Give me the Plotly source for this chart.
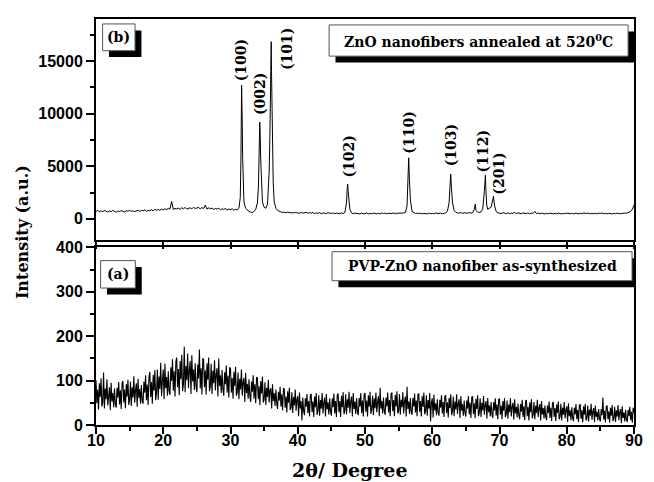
import numpy as np
import plotly.graph_objects as go

# ---------------- data ----------------
# sampling grid for both patterns (2theta, degrees)
grid_b_start, grid_b_stop, grid_b_step = 10.0, 90.0, 0.25     # annealed pattern
grid_a_start, grid_a_stop, grid_a_step = 10.0, 90.0, 0.125    # as-synthesized pattern

# (b) ZnO nanofibers annealed at 520 C -- values on the 0.25 deg grid (10 ... 90)
annealed_grid = [
    700, 820, 650, 760,  680, 790, 720, 640,  750, 680, 800, 700,  620, 740, 690, 780,
    700, 650, 760, 720,  810, 700, 760, 680,  740, 820, 700, 790,  760, 850, 720, 800,
    780, 860, 750, 900,  820, 880, 800, 920,  860, 950, 880, 1000, 920, 1650, 880, 980,
    940, 1020, 900, 1050, 960, 1080, 920, 1000, 1050, 940, 1100, 980, 1000, 1080, 950, 1060,
    980, 1300, 920, 1040, 960, 1020, 880, 980, 920, 1000, 860, 950, 900, 980, 840, 920,
    880, 950, 820, 900,  850, 1000, 3200, 9000, 1600, 1000, 800, 700, 620, 600, 700, 900,
    1500, 6000, 5500, 1600, 1100, 1000, 1400, 4500, 14500, 6500, 1600, 1000, 800, 700, 650, 600,
    620, 560, 640, 580,  600, 540, 620, 560,  580, 520, 600, 540,  560, 620, 520, 580,
    540, 600, 500, 560,  520, 580, 480, 560,  540, 500, 580, 520,  500, 560, 480, 540,
    520, 480, 560, 500,  600, 1500, 2600, 900, 560, 480, 540, 500, 520, 460, 540, 480,
    500, 560, 460, 520,  480, 540, 500, 460,  520, 480, 560, 500,  540, 470, 520, 490,
    500, 560, 480, 530,  520, 480, 540, 560,  600, 1200, 5800, 1800, 700, 560, 500, 540,
    480, 530, 470, 520,  500, 460, 540, 480,  520, 470, 550, 490,  500, 540, 470, 520,
    560, 700, 1500, 4250, 1600, 800, 620, 560, 540, 600, 520, 580, 560, 520, 600, 540,
    580, 900, 800, 650,  600, 650, 900, 2600, 2500, 900, 1000, 1100, 1800, 1300, 700, 560,
    540, 500, 580, 520,  500, 560, 480, 540,  520, 600, 500, 560,  540, 480, 560, 520,
    500, 560, 470, 540,  520, 700, 500, 540,  480, 540, 500, 460,  520, 480, 540, 500,
    460, 520, 480, 540,  500, 460, 520, 480,  540, 500, 480, 520,  460, 540, 500, 480,
    520, 480, 560, 500,  500, 540, 470, 520,  480, 520, 460, 540,  500, 560, 480, 520,
    470, 520, 500, 460,  520, 480, 540, 500,  480, 520, 500, 540,  560, 600, 700, 900,
    1300,
]
# extra points read on the diffraction peaks (2theta, intensity)
peak_two_theta = [31.45, 31.55, 31.65, 31.7, 31.8, 31.9,
                  34.15, 34.35, 34.4, 34.6,
                  35.65, 35.85, 35.95, 36.05, 36.1, 36.15, 36.35,
                  47.35, 47.42, 47.6,
                  56.4, 56.6,
                  62.65, 62.85,
                  66.4,
                  67.85, 67.9, 68.1,
                  69.1]
peak_intensity = [2000, 5500, 12700, 11500, 6000, 2500,
                  3000, 9200, 8500, 3000,
                  2800, 7500, 12000, 16850, 14000, 10500, 3500,
                  2800, 3300, 1500,
                  3500, 3800,
                  3200, 3000,
                  1400,
                  3800, 4150, 1300,
                  2150]

# (a) PVP-ZnO nanofiber as-synthesized -- values on the 0.125 deg grid, 8 per degree (10 ... 90)
as_synth = [
    101, 49, 80, 35, 94, 63, 105, 42,     50, 118, 37, 82, 58, 103, 44, 75,
    85, 34, 95, 53, 72, 40, 82, 47,       39, 84, 62, 97, 46, 78, 36, 94,
    99, 51, 80, 38, 92, 64, 102, 45,      56, 98, 43, 85, 62, 110, 50, 78,
    94, 41, 104, 61, 81, 48, 90, 54,      48, 98, 73, 112, 56, 91, 45, 108,
    120, 63, 97, 48, 113, 78, 124, 56,    73, 125, 57, 109, 81, 140, 65, 101,
    125, 58, 138, 83, 108, 66, 121, 75,   68, 130, 99, 148, 77, 121, 64, 143,
    152, 85, 126, 67, 144, 103, 158, 76,  92, 176, 74, 133, 101, 161, 83, 124,
    144, 70, 157, 98, 125, 79, 139, 88,   74, 136, 105, 170, 82, 128, 69, 150,
    148, 85, 123, 68, 139, 102, 152, 76,  86, 138, 70, 122, 94, 146, 78, 114,
    128, 64, 150, 88, 112, 72, 124, 80,   66, 119, 92, 134, 73, 111, 62, 130,
    127, 73, 106, 59, 120, 88, 131, 66,   73, 118, 58, 104, 80, 125, 66, 97,
    106, 52, 117, 72, 93, 59, 103, 66,    52, 98, 75, 112, 59, 92, 49, 108,
    106, 58, 87, 45, 99, 71, 109, 51,     57, 96, 45, 84, 63, 102, 51, 78,
    83, 37, 92, 54, 72, 43, 80, 49,       36, 75, 55, 86, 41, 69, 33, 83,
    81, 39, 64, 28, 76, 50, 84, 34,       38, 74, 27, 63, 44, 80, 32, 58,
    65, 20, 73, 37, 54, 10, 62, 31,       22, 60, 41, 70, 27, 54, 19, 68,
    69, 29, 53, 18, 64, 40, 72, 23,       31, 67, 21, 56, 37, 72, 26, 50,
    62, 19, 70, 35, 51, 24, 60, 30,       21, 60, 40, 71, 26, 54, 18, 68,
    71, 29, 54, 18, 66, 40, 74, 24,       33, 69, 24, 58, 39, 75, 27, 53,
    64, 19, 72, 36, 53, 25, 61, 30,       22, 61, 41, 72, 27, 55, 19, 69,
    72, 30, 55, 19, 67, 41, 75, 25,       35, 66, 22, 60, 38, 73, 29, 52,
    65, 20, 84, 37, 54, 26, 62, 31,       23, 62, 42, 73, 28, 56, 20, 70,
    73, 31, 56, 20, 68, 42, 76, 26,       32, 70, 23, 57, 40, 74, 26, 54,
    64, 19, 86, 36, 53, 25, 61, 30,       23, 61, 42, 71, 28, 55, 20, 69,
    70, 30, 54, 19, 65, 41, 73, 24,       31, 67, 21, 56, 37, 72, 8, 50,
    60, 17, 68, 33, 49, 22, 58, 28,       21, 57, 39, 67, 26, 52, 18, 65,
    66, 27, 51, 17, 61, 38, 69, 22,       30, 64, 20, 53, 35, 69, 25, 48,
    58, 16, 65, 32, 47, 21, 55, 26,       19, 55, 37, 65, 24, 50, 16, 63,
    64, 25, 49, 15, 59, 36, 67, 20,       28, 60, 18, 50, 33, 65, 23, 45,
    54, 14, 61, 29, 44, 19, 52, 24,       16, 51, 33, 60, 21, 46, 13, 58,
    59, 23, 44, 13, 54, 32, 61, 18,       24, 55, 14, 46, 29, 60, 19, 41,
    50, 12, 58, 26, 41, 17, 48, 22,       13, 47, 30, 57, 18, 42, 11, 54,
    56, 20, 41, 10, 51, 29, 58, 15,       22, 52, 13, 43, 27, 57, 18, 39,
    47, 10, 54, 24, 38, 15, 44, 19,       11, 44, 27, 53, 16, 39, 9, 50,
    51, 18, 38, 9, 46, 27, 53, 13,        19, 48, 10, 39, 23, 52, 15, 34,
    42, 7, 49, 20, 33, 11, 40, 16,        9, 39, 24, 47, 13, 34, 7, 45,
    46, 14, 33, 6, 42, 23, 48, 10,        16, 44, 8, 35, 21, 48, 12, 31,
    38, 6, 44, 18, 30, 10, 36, 14,        8, 36, 22, 62, 12, 32, 6, 42,
    43, 13, 31, 5, 39, 21, 45, 9,         15, 41, 7, 33, 19, 45, 11, 29,
    36, 4, 42, 16, 28, 8, 34, 12,         7, 34, 20, 41, 11, 30, 5, 39,
    28,
]

peak_labels = ["(100)", "(002)", "(101)", "(102)", "(110)", "(103)", "(112)", "(201)"]
label_two_theta = [31.55, 34.5, 38.3, 47.6, 56.5, 62.8, 67.5, 69.8]
label_intensity = [15070, 11840, 16170, 5900, 8160, 6990, 6380, 4300]

x_ticks = [10, 20, 30, 40, 50, 60, 70, 80, 90]

# ---------------- build series ----------------
grid_b = np.round(np.arange(grid_b_start, grid_b_stop + grid_b_step / 2, grid_b_step), 3)
grid_a = np.round(np.arange(grid_a_start, grid_a_stop + grid_a_step / 2, grid_a_step), 4)
tb = np.concatenate([grid_b, np.array(peak_two_theta)])
ib = np.concatenate([np.array(annealed_grid, float), np.array(peak_intensity, float)])
order = np.argsort(tb, kind="stable")
tb, ib = tb[order], ib[order]

fig = go.Figure()
fig.add_trace(go.Scatter(x=tb, y=ib, mode="lines", line=dict(color="black", width=1),
                         xaxis="x2", yaxis="y2", showlegend=False, hoverinfo="skip"))
fig.add_trace(go.Scatter(x=grid_a, y=as_synth, mode="lines", line=dict(color="black", width=1.1),
                         xaxis="x", yaxis="y", showlegend=False, hoverinfo="skip"))

# ---------------- layout ----------------
W, H = 654, 482
ML, MR, MT, MB = 96, 11, 15, 57
PW, PH = W - ML - MR, H - MT - MB

def px(xpix):
    return (xpix - ML) / PW

def py(ypix):
    return (H - MB - ypix) / PH

tickfont = dict(family="Liberation Sans, Arial", size=16, color="black", weight="bold")
serif = "DejaVu Serif, Liberation Serif, serif"

common_x = dict(range=[10, 90], showgrid=False, zeroline=False, showline=True,
                linecolor="black", linewidth=2, mirror=True,
                ticks="outside", tickcolor="black", tickwidth=1.5, ticklen=7,
                tickvals=x_ticks)

fig.update_layout(
    width=W, height=H,
    margin=dict(l=ML, r=MR, t=MT, b=MB),
    paper_bgcolor="white", plot_bgcolor="white",
    xaxis=dict(**common_x, anchor="y", tickfont=tickfont, ticklabelstandoff=-7,
               minor=dict(ticks="outside", ticklen=4, tickcolor="black", tickwidth=1.5, dtick=5)),
    yaxis=dict(domain=[0, py(245.7)], range=[0, 400], showgrid=False, zeroline=False,
               showline=True, linecolor="black", linewidth=2, mirror=True,
               ticks="outside", ticklen=8, tickwidth=1.5, tickcolor="black",
               dtick=100, tick0=0, tickfont=tickfont, tickformat="d",
               minor=dict(ticks="outside", ticklen=4, tickcolor="black", tickwidth=1.5, dtick=50)),
    xaxis2=dict(**common_x, anchor="y2", matches="x", showticklabels=False),
    yaxis2=dict(domain=[py(238), 1], range=[-2000, 19000], showgrid=False, zeroline=False,
                showline=True, linecolor="black", linewidth=2, mirror=True,
                ticks="outside", ticklen=8, tickwidth=1.5, tickcolor="black",
                dtick=5000, tick0=0, tickfont=tickfont, tickformat="d",
                minor=dict(ticks="outside", ticklen=4, tickcolor="black", tickwidth=1.5, dtick=2500)),
)

# peak labels
for lab, lx, ly in zip(peak_labels, label_two_theta, label_intensity):
    fig.add_annotation(x=lx, y=ly, xref="x2", yref="y2", text="<b>%s</b>" % lab,
                       textangle=-90, showarrow=False, xanchor="center", yanchor="middle",
                       font=dict(family=serif, size=14, color="black"))

# boxed labels with drop shadow (pixel positions)
boxes = [
    ((102.7, 20, 135.7, 47), "(b)"),
    ((333, 21, 637, 52.5), "ZnO nanofibers annealed at 520<sup>0</sup>C"),
    ((100.7, 259, 136, 286.7), "(a)"),
    ((336, 250, 641, 279.3), "PVP-ZnO nanofiber as-synthesized"),
]
off = 6.5
for (x0, y0, x1, y1), txt in boxes:
    sx1 = min(x1 + off, ML + PW)
    fig.add_shape(type="rect", xref="paper", yref="paper",
                  x0=px(x0 + off), x1=px(sx1), y0=py(y1 + off), y1=py(y0 + off),
                  fillcolor="black", line=dict(width=0), layer="above")
    fig.add_shape(type="rect", xref="paper", yref="paper",
                  x0=px(x0), x1=px(x1), y0=py(y1), y1=py(y0),
                  fillcolor="white", line=dict(color="#555555", width=1), layer="above")
    fig.add_annotation(x=px((x0 + x1) / 2), y=py((y0 + y1) / 2), xref="paper", yref="paper",
                       text="<b>%s</b>" % txt, showarrow=False, xanchor="center", yanchor="middle",
                       font=dict(family=serif, size=14, color="black"))

# axis titles
fig.add_annotation(x=px(22), y=py(230), xref="paper", yref="paper",
                   text="<b>Intensity (a.u.)</b>", textangle=-90, showarrow=False,
                   xanchor="center", yanchor="middle",
                   font=dict(family=serif, size=16, color="black"))
fig.add_annotation(x=px(354), y=py(470), xref="paper", yref="paper",
                   text="<b>2θ/ Degree</b>", showarrow=False,
                   xanchor="center", yanchor="middle",
                   font=dict(family=serif, size=19, color="black"))

fig.write_html("out.html",
               config={"displayModeBar": False},
               post_script="document.body.style.margin='0px';"
                           "document.documentElement.style.overflow='hidden';")
